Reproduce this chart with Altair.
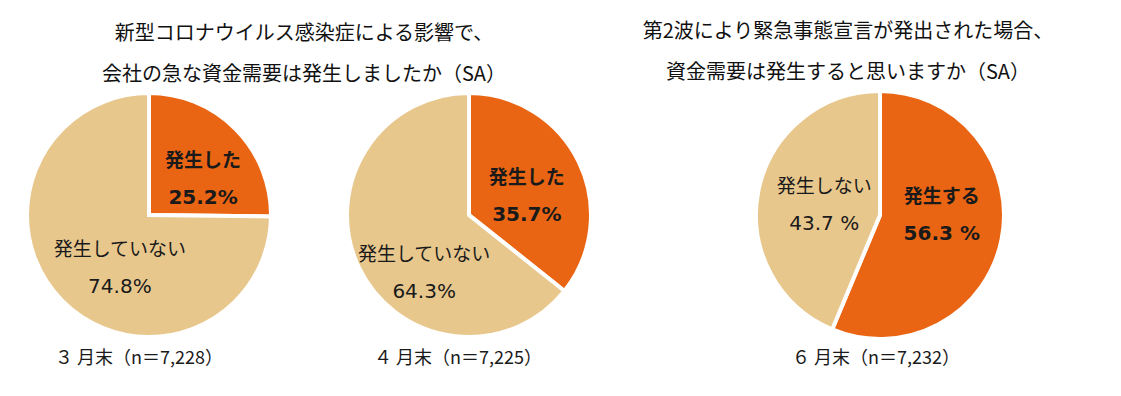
import altair as alt
import pandas as pd

# ---- data ----
pie1_labels = ["発生した", "発生していない"]
pie1_values = [25.2, 74.8]
pie1_texts = ["25.2%", "74.8%"]

pie2_labels = ["発生した", "発生していない"]
pie2_values = [35.7, 64.3]
pie2_texts = ["35.7%", "64.3%"]

pie3_labels = ["発生する", "発生しない"]
pie3_values = [56.3, 43.7]
pie3_texts = ["56.3 %", "43.7 %"]

footnotes = ["３ 月末（n＝7,228）", "４ 月末（n＝7,225）", "６ 月末（n＝7,232）"]

title_left = ["新型コロナウイルス感染症による影響で、", "会社の急な資金需要は発生しましたか（SA）"]
title_right = ["第2波により緊急事態宣言が発出された場合、", "資金需要は発生すると思いますか（SA）"]

ORANGE = "#EA6513"
BEIGE = "#E8C78D"
FONT = "Noto Sans CJK JP"
NUMFONT = "DejaVu Sans"
H_PANEL = 250
HALF_GAP = 18.5


def pie(labels, values, texts, foot, offs, foot_dx, width, radius, title=None, title_dx=0):
    df = pd.DataFrame({
        "label": labels,
        "value": values,
        "pct": texts,
        "i": list(range(len(labels))),
    })
    base = alt.Chart(df)
    arcs = base.mark_arc(radius=radius, stroke="white", strokeWidth=4).encode(
        theta=alt.Theta("value:Q", stack=True),
        order=alt.Order("i:O"),
        color=alt.Color("label:N", scale=alt.Scale(domain=labels, range=[ORANGE, BEIGE]), legend=None),
    )
    layers = [arcs]
    mid_base = base.transform_window(
        cum="sum(value)", sort=[alt.SortField("i")]
    ).transform_calculate(
        mid="datum.cum - datum.value / 2"
    )
    for k, (r, dx, dy, weight) in enumerate(offs):
        sel = mid_base.transform_filter(alt.datum.i == k)
        name = sel.mark_text(
            radius=r, dx=dx, dy=dy - HALF_GAP, font=FONT, fontSize=19, fontWeight=weight,
            align="center", baseline="middle", color="#1a1a1a"
        ).encode(theta=alt.Theta("mid:Q"), text="label:N")
        pct = sel.mark_text(
            radius=r, dx=dx, dy=dy + HALF_GAP, font=NUMFONT, fontSize=20, fontWeight=weight,
            align="center", baseline="middle", color="#1a1a1a"
        ).encode(theta=alt.Theta("mid:Q"), text="pct:N")
        layers += [name, pct]
    foot_layer = alt.Chart(pd.DataFrame({"f": [foot]})).mark_text(
        font=FONT, fontSize=18, color="#1a1a1a", align="center", baseline="middle",
        dx=foot_dx, dy=144,
    ).encode(text="f:N")
    layers.append(foot_layer)
    ch = alt.layer(*layers).properties(width=width, height=H_PANEL)
    if title is not None:
        ch = ch.properties(title=alt.TitleParams(
            title, font=FONT, fontSize=20, fontWeight="normal", lineHeight=41,
            anchor="middle", color="#111111", offset=0, dx=title_dx))
    return ch


p1 = pie(pie1_labels, pie1_values, pie1_texts, footnotes[0],
         [(62, 10, 8, "bold"), (62, 15, 10, "normal")], -10, 282, 122,
         title=title_left, title_dx=155)
p2 = pie(pie2_labels, pie2_values, pie2_texts, footnotes[1],
         [(62, 2, 8, "bold"), (62, 11, 32, "normal")], -11, 358, 122)
p3 = pie(pie3_labels, pie3_values, pie3_texts, footnotes[2],
         [(62, 1, -12, "bold"), (62, 5, 3, "normal")], -4, 464, 124,
         title=title_right, title_dx=-32)

chart = alt.hconcat(p1, p2, p3, spacing=0, bounds="flush").properties(
    padding={"left": 0, "top": 14, "right": 0, "bottom": 30}
).configure_view(stroke=None).configure(background="white")

chart.save("out.html", embed_options={"renderer": "svg", "actions": False})
